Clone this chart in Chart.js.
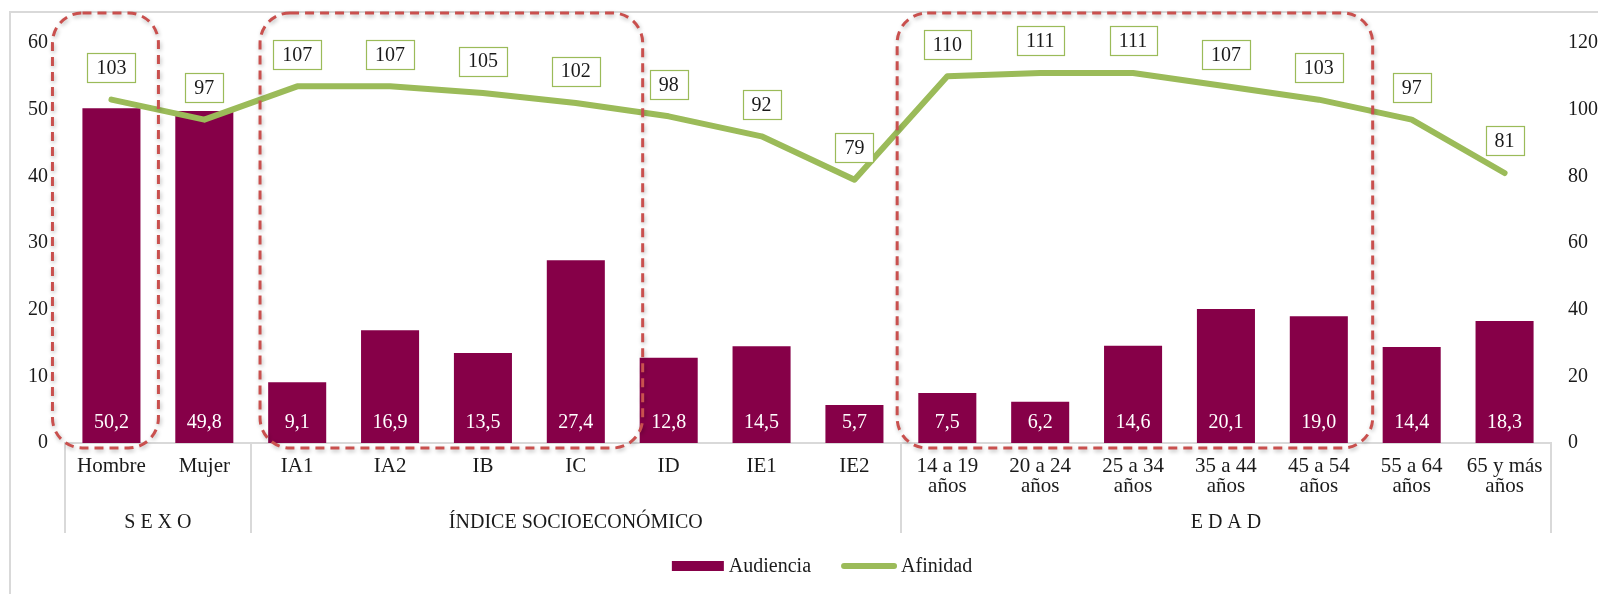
<!DOCTYPE html>
<html>
<head>
<meta charset="utf-8">
<script src="https://cdn.jsdelivr.net/npm/chart.js@4/dist/chart.umd.min.js"></script>
<style>
html,body{margin:0;padding:0;background:#fff;}
#wrap{position:relative;width:1598px;height:594px;}
</style>
</head>
<body>
<div id="wrap"><canvas id="c" width="1598" height="594"></canvas></div>
<script>
// ---- data ----
const categories = [
  'Hombre','Mujer','IA1','IA2','IB','IC','ID','IE1','IE2',
  ['14 a 19','años'],['20 a 24','años'],['25 a 34','años'],['35 a 44','años'],
  ['45 a 54','años'],['55 a 64','años'],['65 y más','años']
];
const audiencia = [50.2,49.8,9.1,16.9,13.5,27.4,12.8,14.5,5.7,7.5,6.2,14.6,20.1,19.0,14.4,18.3];
const afinidad  = [103,97,107,107,105,102,98,92,79,110,111,111,107,103,97,81];
const groupLabels = ['S E X O','ÍNDICE SOCIOECONÓMICO','E D A D'];
const groupStart  = [0,2,9];
const groupEnd    = [1,8,15];
const highlightStart = [0,2,9];
const highlightEnd   = [0,5,13];

// ---- styling ----
const FONT = '"Liberation Serif", "DejaVu Serif", serif';
const BAR_COLOR = '#860048';
const LINE_COLOR = '#9BBB59';
const GRID_GRAY = '#d9d9d9';
const TEXT = '#1a1a1a';
// hand-drawn highlight padding (in category-width units): [left, right]
const highlightPad = [[0.635,0.506],[0.40,0.72],[0.54,0.58]];

const deco = {
  id:'deco',
  beforeDraw(chart){
    const ctx = chart.ctx;
    ctx.save();
    ctx.strokeStyle = GRID_GRAY; ctx.lineWidth = 2;
    ctx.beginPath();
    ctx.moveTo(10, chart.height); ctx.lineTo(10, 12); ctx.lineTo(chart.width, 12);
    ctx.stroke();
    ctx.restore();
  },
  afterDatasetsDraw(chart){
    const ctx = chart.ctx;
    const y = chart.scales.y;
    ctx.save();
    ctx.font = '20px ' + FONT;
    ctx.textAlign = 'center'; ctx.textBaseline = 'middle';
    chart.getDatasetMeta(0).data.forEach((bar,i)=>{
      ctx.fillStyle = '#ffffff';
      ctx.fillText(audiencia[i].toFixed(1).replace('.',','), bar.x, y.getPixelForValue(0) - 20);
    });
    chart.getDatasetMeta(1).data.forEach((pt,i)=>{
      const txt = String(afinidad[i]);
      const w = ctx.measureText(txt).width + 18;
      const h = 29;
      const cx = pt.x, cy = pt.y - 32;
      ctx.fillStyle = '#ffffff';
      ctx.fillRect(cx - w/2, cy - h/2, w, h);
      ctx.strokeStyle = LINE_COLOR; ctx.lineWidth = 1.2;
      ctx.strokeRect(Math.round(cx - w/2)+0.5, Math.round(cy - h/2)+0.5, Math.round(w), h);
      ctx.fillStyle = TEXT;
      ctx.fillText(txt, cx, cy + 1);
    });
    ctx.restore();
  },
  afterDraw(chart){
    const ctx = chart.ctx;
    const x = chart.scales.x, y = chart.scales.y;
    const ca = chart.chartArea;
    const catW = (ca.right - ca.left) / categories.length;
    ctx.save();
    ctx.strokeStyle = GRID_GRAY; ctx.lineWidth = 2;
    const sepBottom = ca.bottom + 90;
    const bounds = new Set();
    groupStart.forEach(s=>bounds.add(s)); groupEnd.forEach(e=>bounds.add(e+1));
    bounds.forEach(b=>{
      const px = Math.round(x.getPixelForValue(b) - catW/2);
      ctx.beginPath(); ctx.moveTo(px, ca.bottom); ctx.lineTo(px, sepBottom); ctx.stroke();
    });
    ctx.font = '20px ' + FONT; ctx.fillStyle = TEXT;
    ctx.textAlign = 'center'; ctx.textBaseline = 'middle';
    groupLabels.forEach((g,i)=>{
      const cx = (x.getPixelForValue(groupStart[i]) + x.getPixelForValue(groupEnd[i]))/2;
      ctx.fillText(g, cx, ca.bottom + 80);
    });
    ctx.strokeStyle = '#C9504E'; ctx.lineWidth = 3;
    ctx.setLineDash([9,6]);
    ctx.shadowColor = 'rgba(0,0,0,0.28)'; ctx.shadowBlur = 4; ctx.shadowOffsetX = 1; ctx.shadowOffsetY = 2;
    const top = y.getPixelForValue(60) - 30, bottom = y.getPixelForValue(0) + 5;
    highlightStart.forEach((s,i)=>{
      const l = x.getPixelForValue(s) - highlightPad[i][0]*catW;
      const r = x.getPixelForValue(highlightEnd[i]) + highlightPad[i][1]*catW;
      ctx.beginPath();
      ctx.roundRect(l, top, r - l, bottom - top, 30);
      ctx.stroke();
    });
    ctx.setLineDash([]);
    ctx.shadowColor = 'transparent';
    ctx.font = '20px ' + FONT; ctx.textAlign = 'left'; ctx.textBaseline = 'middle';
    const ly = ca.bottom + 123;
    const t1 = chart.data.datasets[0].label, t2 = chart.data.datasets[1].label;
    const w1 = 52 + 5 + ctx.measureText(t1).width, w2 = 56 + 4 + ctx.measureText(t2).width;
    const gap = 30;
    let lx = (ca.left + ca.right)/2 + 14 - (w1 + gap + w2)/2;
    ctx.fillStyle = BAR_COLOR; ctx.fillRect(lx, ly - 5, 52, 10);
    ctx.fillStyle = TEXT; ctx.fillText(t1, lx + 57, ly + 1);
    lx += w1 + gap;
    ctx.strokeStyle = LINE_COLOR; ctx.lineWidth = 6; ctx.lineCap = 'round';
    ctx.beginPath(); ctx.moveTo(lx + 3, ly); ctx.lineTo(lx + 53, ly); ctx.stroke();
    ctx.fillStyle = TEXT; ctx.fillText(t2, lx + 60, ly + 1);
    ctx.restore();
  }
};

Chart.defaults.font.family = FONT;
Chart.defaults.font.size = 20;
Chart.defaults.color = TEXT;

new Chart(document.getElementById('c'), {
  type:'bar',
  data:{
    labels: categories,
    datasets:[
      {label:'Audiencia', data: audiencia, backgroundColor: BAR_COLOR, yAxisID:'y',
       categoryPercentage:1.0, barPercentage:0.625, order:2},
      {label:'Afinidad', type:'line', data: afinidad, borderColor: LINE_COLOR, backgroundColor: LINE_COLOR,
       borderWidth:6, pointRadius:0, tension:0, yAxisID:'y2', borderJoinStyle:'round', borderCapStyle:'round', order:1}
    ]
  },
  options:{
    responsive:false, animation:false,
    layout:{padding:{top:43,left:0,right:0,bottom:0}},
    plugins:{legend:{display:false}, tooltip:{enabled:false}},
    scales:{
      x:{
        grid:{display:false, drawTicks:false},
        border:{display:true, color:GRID_GRAY, width:2},
        ticks:{color:TEXT, font:{size:21, lineHeight:0.95}, padding:14, maxRotation:0, autoSkip:false},
        afterFit(s){ s.height = 151; }
      },
      y:{
        position:'left', min:0, max:60,
        grid:{display:false, drawTicks:false}, border:{display:false},
        ticks:{stepSize:10, color:TEXT, font:{size:20}, padding:17},
        afterFit(s){ s.width = 65; }
      },
      y2:{
        position:'right', min:0, max:120,
        grid:{display:false, drawTicks:false}, border:{display:false},
        ticks:{stepSize:20, color:TEXT, font:{size:20}, padding:17},
        afterFit(s){ s.width = 47; }
      }
    }
  },
  plugins:[deco]
});
</script>
</body>
</html>
